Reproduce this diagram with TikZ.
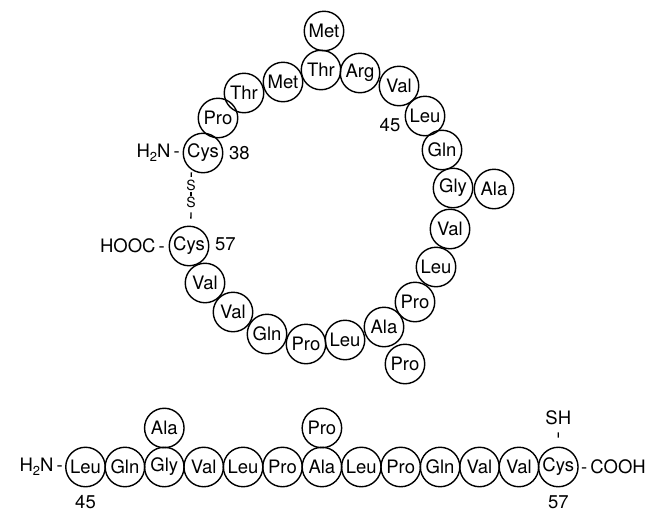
\documentclass[tikz,border=0pt]{standalone}
\usepackage{fontspec}
\setmainfont{TeX Gyre Heros}
\newcommand\subtwo{\raisebox{-0.45ex}{\fontsize{13}{13}\selectfont 2}}
\begin{document}
\begin{tikzpicture}[x=1pt,y=-1pt,
  aa/.style={circle,draw,line width=1.4pt,minimum size=39.5pt,inner sep=0pt,font=\fontsize{18.5}{18.5}\selectfont},
  lbl/.style={inner sep=0pt,font=\fontsize{18.5}{18.5}\selectfont},
  sulf/.style={inner sep=1.2pt,font=\fontsize{14}{14}\selectfont},
  bond/.style={line width=1.3pt}]
\useasboundingbox (0,0) rectangle (657,512);
% ---- ring ----
\node[aa] (r1)  at (203,153) {Cys};
\node[aa] (r2)  at (218,118) {Pro};
\node[aa] (r3)  at (244,93)  {Thr};
\node[aa] (r4)  at (283,82)  {Met};
\node[aa] (r5)  at (321,70)  {Thr};
\node[aa] (r5s) at (324,31)  {Met};
\node[aa] (r6)  at (360,73)  {Arg};
\node[aa] (r7)  at (399,86)  {Val};
\node[aa] (r8)  at (425,116) {Leu};
\node[aa] (r9)  at (442,150) {Gln};
\node[aa] (r10) at (453,188) {Gly};
\node[aa] (r10s) at (494,189) {Ala};
\node[aa] (r11) at (450,229) {Val};
\node[aa] (r12) at (436,267) {Leu};
\node[aa] (r13) at (415,302) {Pro};
\node[aa] (r14) at (384,327) {Ala};
\node[aa] (r14s) at (405,364) {Pro};
\node[aa] (r15) at (345,340) {Leu};
\node[aa] (r16) at (306,344) {Pro};
\node[aa] (r17) at (267,334) {Gln};
\node[aa] (r18) at (233,312) {Val};
\node[aa] (r19) at (205,283) {Val};
\node[aa] (r20) at (189,246) {Cys};
% ring labels
\node[lbl,anchor=east] (rn) at (180,153) {H\subtwo N\,-};
\node[lbl,anchor=west] (n38) at (229,153) {38};
\node[lbl] (n45) at (390,125) {45};
\node[lbl,anchor=east] (rc) at (165,246) {HOOC\,-};
\node[lbl,anchor=west] (n57r) at (215,244) {57};
% disulfide
\node[sulf] (s1) at (191,185) {S};
\node[sulf] (s2) at (191,202.5) {S};
\draw[bond,shorten <=2.5pt,shorten >=1.5pt] (r1.236) -- (s1.north);
\draw[bond] (s1) -- (s2);
\draw[bond,shorten <=3pt,shorten >=7pt] (s2.south) -- (r20.85);
% ---- linear chain ----
\foreach \n/\t [count=\i from 0] in {b1/Leu,b2/Gln,b3/Gly,b4/Val,b5/Leu,b6/Pro,b7/Ala,b8/Leu,b9/Pro,b10/Gln,b11/Val,b12/Val,b13/Cys}
  \node[aa] (\n) at ({85.5+39.4*\i},467) {\t};
\node[aa] (b3s) at (164.3,428) {Ala};
\node[aa] (b7s) at (321.9,428) {Pro};
\node[lbl,anchor=east] (bn) at (63,467) {H\subtwo N\,-};
\node[lbl,anchor=west] (bc) at (581,467) {-\,COOH};
\node[lbl] (n45b) at (85.5,502.5) {45};
\node[lbl] (n57b) at (558.3,502.5) {57};
\node[lbl] (sh) at (558.3,418) {SH};
\draw[bond,shorten <=7pt,shorten >=9pt] (sh.south) -- (b13.north);
\end{tikzpicture}
\end{document}
